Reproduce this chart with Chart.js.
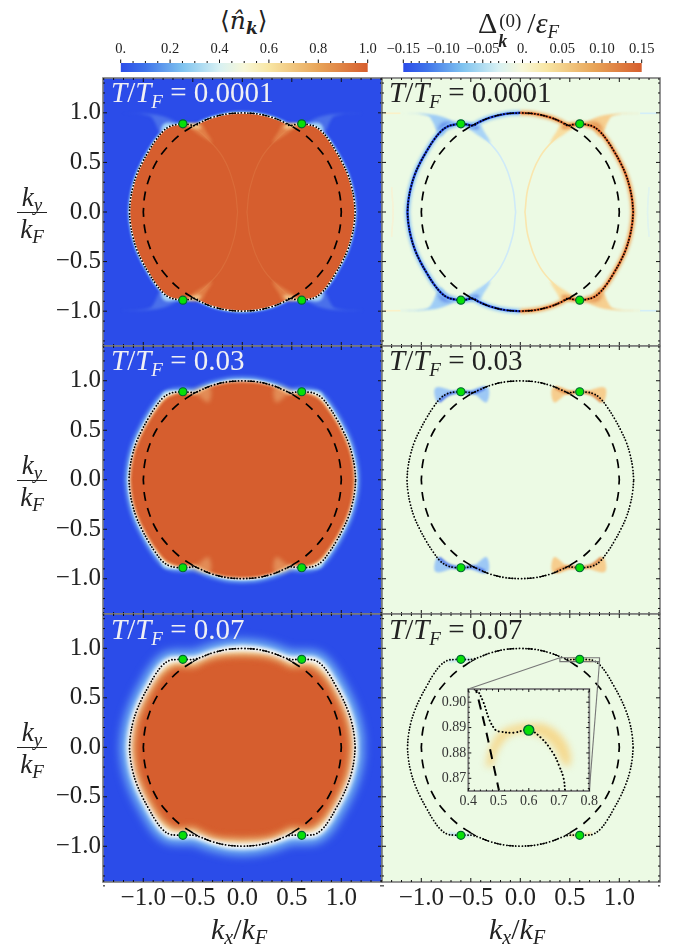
<!DOCTYPE html>
<html>
<head>
<meta charset="utf-8">
<script src="https://cdn.jsdelivr.net/npm/chart.js@4"></script>
<style>
  html, body { margin: 0; padding: 0; background: #fff; }
  #page { position: relative; width: 677px; height: 944px; overflow: hidden; font-family: "Liberation Serif", serif; color: #222; }
  #page canvas { position: absolute; }
  .lbl { position: absolute; white-space: nowrap; line-height: 1; }
  .tmp { font-size: 29px; font-weight: normal; }
  .tmp sub { font-size: 19px; vertical-align: -6px; line-height: 0; font-style: italic; }
  .frac { position: absolute; left: 14px; width: 36px; text-align: center; font-size: 27px; font-style: italic; line-height: 1; }
  .frac sub { font-size: 19px; vertical-align: -5px; line-height: 0; }
  .frac .bar { position: absolute; left: 3px; right: 3px; height: 1px; background: #222; }
  .frac div { position: absolute; width: 100%; }
</style>
</head>
<body>
<div id="page"></div>
<script>
// all in units of k_F. first quadrant only, mirrored below
const outlineCold = [[1.14,0],[1.13,0.12],[1.105,0.25],[1.065,0.38],[1.01,0.5],[0.945,0.615],[0.875,0.725],[0.8,0.815],[0.735,0.862],[0.67,0.88],[0.6,0.889],[0.54,0.882],[0.475,0.873],[0.42,0.905],[0.3,0.954],[0.15,0.989],[0,1]];
const outlineMid = [[1.145,0],[1.135,0.12],[1.11,0.25],[1.07,0.38],[1.015,0.5],[0.95,0.62],[0.88,0.73],[0.805,0.825],[0.735,0.87],[0.67,0.885],[0.6,0.889],[0.54,0.885],[0.48,0.88],[0.42,0.905],[0.3,0.954],[0.15,0.989],[0,1]];
const outlineWarm = [[1.14,0],[1.13,0.12],[1.105,0.25],[1.065,0.375],[1.01,0.5],[0.945,0.62],[0.875,0.74],[0.805,0.83],[0.735,0.878],[0.67,0.887],[0.6,0.889],[0.54,0.887],[0.49,0.889],[0.43,0.905],[0.3,0.954],[0.15,0.989],[0,1]];
const coreMid = [[1.125,0],[1.115,0.12],[1.09,0.25],[1.05,0.37],[0.995,0.49],[0.93,0.605],[0.86,0.71],[0.78,0.805],[0.7,0.85],[0.62,0.87],[0.55,0.86],[0.47,0.86],[0.4,0.895],[0.3,0.94],[0.15,0.975],[0,0.985]];
const coreWarm = [[1.08,0],[1.07,0.12],[1.04,0.27],[0.99,0.4],[0.93,0.52],[0.86,0.64],[0.775,0.745],[0.68,0.805],[0.58,0.805],[0.48,0.805],[0.4,0.845],[0.28,0.89],[0.14,0.91],[0,0.915]];
const fermiCircle = [[1,0],[0.985,0.17],[0.94,0.34],[0.87,0.5],[0.77,0.64],[0.64,0.77],[0.5,0.866]];
const fermiTop = [[0.5,0.866],[0.4,0.917],[0.3,0.954],[0.15,0.989],[0,1]];
const crossings = [[0.6,0.889],[-0.6,0.889],[0.6,-0.889],[-0.6,-0.889]];

const lensArc = [[0.047,0],[0.081,0.255],[0.2,0.558],[0.385,0.77],[0.5,0.86]];
const lensPale = [[0.6,0.887],[0.418,0.894],[0.37,0.82],[0.3,0.7],[0.34,0.72],[0.45,0.79],[0.553,0.861]];
const lensHot = [[0.58,0.885],[0.45,0.885],[0.42,0.84],[0.5,0.845]];
const wingPale = [[0.636,0.887],[0.771,0.955],[0.939,0.988],[1.209,0.997],[0.939,0.97],[0.88,0.9],[0.856,0.843],[0.805,0.76],[0.72,0.862]];
const wingHot = [[0.65,0.885],[0.74,0.9],[0.8,0.88],[0.82,0.8],[0.78,0.83]];
const wingTip = [[1.21,0.995],[1.38,0.995]];
const farArc = [[1.3,-0.25],[1.285,0],[1.3,0.25]];
const midWing = [[0.653,0.889],[0.855,0.929],[0.838,0.782],[0.754,0.856]];
const midLens = [[0.553,0.888],[0.333,0.939],[0.34,0.782],[0.451,0.855]];
const midStreak = [[0.36,0.925],[0.48,0.88],[0.6,0.889],[0.72,0.865],[0.82,0.79]];
const warmStreak = [[0.5,0.888],[0.6,0.889],[0.72,0.868]];

const zoomBox = [[0.4,0.905],[0.8,0.905],[0.8,0.865],[0.4,0.865],[0.4,0.905]];
const zoomLineA = [[0.4,0.905],[-0.525,0.589]];
const zoomLineB = [[0.8,0.865],[0.697,-0.441]];
const insetOutline = [[0.43,0.905],[0.45,0.9],[0.47,0.893],[0.49,0.889],[0.5,0.8885],[0.55,0.888],[0.6,0.889],[0.64,0.886],[0.68,0.88],[0.7,0.875],[0.715,0.87],[0.72,0.865]];
const insetCircle = [[0.42,0.9075],[0.44,0.898],[0.46,0.888],[0.48,0.877],[0.5,0.866],[0.505,0.863]];
const insetBand = [[0.458,0.8746],[0.469,0.881],[0.502,0.888],[0.558,0.891],[0.602,0.8916],[0.658,0.891],[0.713,0.886],[0.739,0.8786],[0.73,0.8746],[0.713,0.876],[0.68,0.8826],[0.636,0.8866],[0.58,0.888],[0.536,0.8866],[0.497,0.881],[0.48,0.8746]];
const insetPoint = [[0.6,0.889]];

const axisTicks = [-1, -0.5, 0, 0.5, 1];
const axisLabels = ['−1.0', '−0.5', '0.0', '0.5', '1.0'];
const axisMinor = [-1.4,-1.3,-1.2,-1.1,-0.9,-0.8,-0.7,-0.6,-0.4,-0.3,-0.2,-0.1,0.1,0.2,0.3,0.4,0.6,0.7,0.8,0.9,1.1,1.2,1.3,1.4];
const insetXTicks = [0.4, 0.5, 0.6, 0.7, 0.8];
const insetXLabels = ['0.4', '0.5', '0.6', '0.7', '0.8'];
const insetXMinor = [0.42,0.44,0.46,0.48,0.52,0.54,0.56,0.58,0.62,0.64,0.66,0.68,0.72,0.74,0.76,0.78];
const insetYTicks = [0.87, 0.88, 0.89, 0.9];
const insetYLabels = ['0.87', '0.88', '0.89', '0.90'];
const insetYMinor = [0.866,0.868,0.872,0.874,0.876,0.878,0.882,0.884,0.886,0.888,0.892,0.894,0.896,0.898,0.902,0.904];

const occupationTicks = [0, 0.2, 0.4, 0.6, 0.8, 1];
const occupationLabels = ['0.', '0.2', '0.4', '0.6', '0.8', '1.0'];
const occupationMinor = [0.05,0.1,0.15,0.25,0.3,0.35,0.45,0.5,0.55,0.65,0.7,0.75,0.85,0.9,0.95];
const gapTicks = [-0.15, -0.1, -0.05, 0, 0.05, 0.1, 0.15];
const gapLabels = ['−0.15', '−0.10', '−0.05', '0.', '0.05', '0.10', '0.15'];
const gapMinor = [-0.14,-0.13,-0.12,-0.11,-0.09,-0.08,-0.07,-0.06,-0.04,-0.03,-0.02,-0.01,0.01,0.02,0.03,0.04,0.06,0.07,0.08,0.09,0.11,0.12,0.13,0.14];
const colorStops = [[0,'#2b4ce9'],[0.1,'#3f74ea'],[0.25,'#7fc3ef'],[0.4,'#d8f1f3'],[0.5,'#f8f7d8'],[0.6,'#f8e6a4'],[0.8,'#e8a458'],[1,'#d65e2e']];

const blue = '#2b4ce9';
const orange = '#d65e2e';
const mint = '#ecfae4';
const serif = '"Liberation Serif", serif';

Chart.defaults.animation = false;
Chart.defaults.plugins.legend.display = false;
Chart.defaults.plugins.tooltip.enabled = false;
Chart.defaults.plugins.filler.drawTime = 'beforeDatasetDraw';

function mirror(pts, sx, sy) {
  return pts.map(p => [p[0] * sx, p[1] * sy]);
}
function closedLoop(q) {
  return [...q, ...mirror(q, -1, 1).reverse(), ...mirror(q, -1, -1), ...mirror(q, 1, -1).reverse()];
}
function leftHalf(q) {
  return [...mirror(q, -1, 1).reverse(), ...mirror(q, -1, -1)];
}
function toXY(pts) {
  return pts.map(p => ({ x: p[0], y: p[1] }));
}

// one dataset per layer, filters are applied per dataset by softLayers
function layer(pts, o) {
  return {
    data: toXY(pts),
    showLine: true,
    pointRadius: 0,
    tension: o.tension === undefined ? 0.4 : o.tension,
    borderWidth: o.width || 0,
    borderColor: o.color || 'transparent',
    backgroundColor: o.fillColor || 'transparent',
    fill: o.fillColor ? 'shape' : false,
    borderDash: o.dash || [],
    borderCapStyle: o.cap || 'butt',
    blur: o.blur || 0
  };
}

const softLayers = {
  id: 'softLayers',
  beforeDatasetsDraw(chart) { setBlur(chart, chart.data.datasets.length - 1); },
  afterDatasetDraw(chart, args) { setBlur(chart, args.index - 1); },
  afterDatasetsDraw(chart) { chart.ctx.filter = 'none'; }
};
function setBlur(chart, i) {
  const ds = chart.data.datasets[i];
  chart.ctx.filter = ds && ds.blur ? 'blur(' + ds.blur + 'px)' : 'none';
}

function tickRow(ctx, scale, vals, len, side, area) {
  vals.forEach(v => {
    const p = scale.getPixelForValue(v);
    ctx.beginPath();
    if (side === 'top') { ctx.moveTo(p, area.top); ctx.lineTo(p, area.top + len); }
    if (side === 'bottom') { ctx.moveTo(p, area.bottom); ctx.lineTo(p, area.bottom - len); }
    if (side === 'left') { ctx.moveTo(area.left, p); ctx.lineTo(area.left + len, p); }
    if (side === 'right') { ctx.moveTo(area.right, p); ctx.lineTo(area.right - len, p); }
    ctx.stroke();
  });
}

const panelFrame = {
  id: 'panelFrame',
  beforeDraw(chart, args, opts) {
    if (!opts.bg) return;
    const a = chart.chartArea;
    chart.ctx.fillStyle = opts.bg;
    chart.ctx.fillRect(a.left, a.top, a.width, a.height);
  },
  afterDraw(chart, args, opts) {
    if (!opts.frame) return;
    const ctx = chart.ctx, a = chart.chartArea;
    ctx.save();
    ctx.strokeStyle = opts.frame;
    ctx.lineWidth = opts.frameWidth;
    ctx.strokeRect(a.left, a.top, a.width, a.height);
    ctx.strokeStyle = '#111';
    ctx.lineWidth = 1;
    ['top', 'bottom'].forEach(s => {
      tickRow(ctx, chart.scales.x, opts.xMajor, opts.major, s, a);
      tickRow(ctx, chart.scales.x, opts.xMinor, opts.minor, s, a);
    });
    ['left', 'right'].forEach(s => {
      tickRow(ctx, chart.scales.y, opts.yMajor, opts.major, s, a);
      tickRow(ctx, chart.scales.y, opts.yMinor, opts.minor, s, a);
    });
    ctx.restore();
  }
};

const barTicks = {
  id: 'barTicks',
  afterDraw(chart, args, opts) {
    if (!opts.major) return;
    const ctx = chart.ctx, a = chart.chartArea, x = chart.scales.x;
    ctx.save();
    ctx.strokeStyle = '#111';
    ctx.lineWidth = 1;
    opts.major.concat(opts.minor).forEach((v, i) => {
      const p = x.getPixelForValue(v);
      ctx.beginPath();
      ctx.moveTo(p, a.top);
      ctx.lineTo(p, a.top - (i < opts.major.length ? 3.5 : 2));
      ctx.stroke();
    });
    ctx.restore();
  }
};
Chart.register(softLayers, panelFrame, barTicks);

const page = document.getElementById('page');
function addCanvas(left, top, w, h) {
  const c = document.createElement('canvas');
  c.width = w; c.height = h;
  c.style.left = left + 'px'; c.style.top = top + 'px';
  c.style.width = w + 'px'; c.style.height = h + 'px';
  page.appendChild(c);
  return c;
}

function fixedAxis(o) {
  return {
    type: 'linear',
    position: o.position,
    display: o.show,
    min: o.min,
    max: o.max,
    grid: { display: false, drawTicks: false },
    border: { display: false },
    afterBuildTicks(s) { s.ticks = o.ticks.map(v => ({ value: v })); },
    afterFit(s) {
      if (!o.show) return;
      s.paddingLeft = s.paddingRight = s.paddingTop = s.paddingBottom = 0;
      if (o.width) s.width = o.width;
      if (o.height) s.height = o.height;
    },
    ticks: {
      autoSkip: false, maxRotation: 0, minRotation: 0,
      padding: o.pad,
      color: o.color || '#222',
      font: { family: serif, size: o.size },
      callback: (v, i) => o.labels[i]
    }
  };
}

// column/row limits follow the pixel position of +-1.0 in the reference
const colLimits = [[-1.407, 1.411], [-1.397, 1.411]];
const rowLimits = [[-1.351, 1.351], [-1.356, 1.351], [-1.361, 1.347]];
const rowTops = [78, 346, 614];

function panel(col, row, bg, bottomUp) {
  const left = col === 0 ? 0 : 380;
  const width = col === 0 ? 384 : 282;
  const extra = row === 2 ? 46 : 2;
  const c = addCanvas(left, rowTops[row] - 2, width, 270 + extra);
  new Chart(c, {
    type: 'scatter',
    data: { datasets: bottomUp.slice().reverse() },
    options: {
      responsive: false,
      devicePixelRatio: 1,
      layout: { autoPadding: false, padding: { left: col === 0 ? 0 : 2, right: 2, top: 2, bottom: row === 2 ? 0 : 2 } },
      scales: {
        x: fixedAxis({ position: 'bottom', show: row === 2, min: colLimits[col][0], max: colLimits[col][1], ticks: axisTicks, labels: axisLabels, size: 25, pad: 1, height: 46 }),
        y: fixedAxis({ position: 'left', show: col === 0, min: rowLimits[row][0], max: rowLimits[row][1], ticks: axisTicks, labels: axisLabels, size: 25, pad: 2, width: 103 })
      },
      plugins: {
        panelFrame: { bg, frame: '#7a7a7a', frameWidth: 1.6, major: 4, minor: 2, xMajor: axisTicks, xMinor: axisMinor, yMajor: axisTicks, yMinor: axisMinor }
      }
    }
  });
}

function curves(outline) {
  const out = [];
  [1, -1].forEach(sy => [1, -1].forEach(sx => {
    out.push(layer(mirror(fermiTop, sx, sy), { color: '#000', width: 1.2, dash: [6, 7] }));
  }));
  const rightArc = [...mirror(fermiCircle, 1, -1).reverse(), ...fermiCircle];
  out.push(layer(rightArc, { color: '#000', width: 1.7, dash: [9, 7.5] }));
  out.push(layer(mirror(rightArc, -1, 1), { color: '#000', width: 1.7, dash: [9, 7.5] }));
  out.push(layer(closedLoop(outline), { color: '#000', width: 1.8, dash: [0.1, 3], cap: 'round' }));
  return out;
}
function greenDots(r) {
  return {
    data: toXY(crossings),
    showLine: false,
    pointRadius: r,
    pointBackgroundColor: '#08e008',
    pointBorderColor: '#063',
    pointBorderWidth: 1.2,
    blur: 0
  };
}
function fourWays(pts, colorRight, colorLeft, blur, out, stroke) {
  [1, -1].forEach(sx => [1, -1].forEach(sy => {
    const color = sx > 0 ? colorRight : colorLeft;
    const o = stroke ? { color, width: stroke, blur } : { fillColor: color, blur };
    out.push(layer(mirror(pts, sx, sy), o));
  }));
}

// left column, occupation
const occCold = [
  layer(closedLoop(outlineCold), { color: '#8cc8f2', width: 3, blur: 1 })
];
fourWays(wingPale, '#4a70ea', '#4a70ea', 1.4, occCold);
fourWays(wingHot, '#a8d8f6', '#a8d8f6', 1.6, occCold);
occCold.push(layer(closedLoop(outlineCold), { color: '#ffffff', width: 1.6, blur: 0.5, fillColor: orange }));
fourWays(lensArc, 'rgba(240,170,110,0.18)', 'rgba(240,170,110,0.18)', 0.6, occCold, 1.2);
fourWays(lensPale, 'rgba(238,160,96,0.5)', 'rgba(238,160,96,0.5)', 1.6, occCold);
fourWays(lensHot, 'rgba(245,207,147,0.85)', 'rgba(245,207,147,0.85)', 1.6, occCold);
occCold.push(...curves(outlineCold), greenDots(4));
panel(0, 0, blue, occCold);

const occMid = [
  layer(closedLoop(outlineMid), { color: '#86c4f2', width: 7, blur: 2.2 })
];
fourWays(wingHot, '#a9d6f5', '#a9d6f5', 1.8, occMid);
occMid.push(layer(closedLoop(outlineMid), { color: '#ffffff', width: 2.5, blur: 1, fillColor: '#f6dca0' }));
occMid.push(layer(closedLoop(coreMid), { color: orange, width: 1, blur: 1.2, fillColor: orange }));
fourWays(midLens, 'rgba(240,185,125,0.5)', 'rgba(240,185,125,0.5)', 2, occMid);
occMid.push(...curves(outlineMid), greenDots(4));
panel(0, 1, blue, occMid);

const occWarm = [
  layer(closedLoop(outlineWarm), { color: '#78b8f2', width: 18, blur: 5 }),
  layer(closedLoop(outlineWarm), { color: '#ffffff', width: 6, blur: 2, fillColor: '#f9eab8' }),
  layer(closedLoop(coreWarm), { color: '#e8a862', width: 3, blur: 3, fillColor: '#e8a862' }),
  layer(closedLoop(coreWarm), { color: orange, width: 1, blur: 3, fillColor: orange })
];
occWarm.push(...curves(outlineWarm), greenDots(4));
panel(0, 2, blue, occWarm);

// right column, gap
const gapCold = [];
fourWays(wingTip, '#d3eef8', '#fbf1c8', 0.6, gapCold, 1.6);
fourWays(farArc, '#e0f4ee', '#f6f3d6', 0.6, gapCold, 1.4);
fourWays(lensArc, '#f9e6ae', '#cfeaf8', 0.6, gapCold, 1.6);
fourWays(wingPale, '#f6cf90', '#9fcdf5', 1.2, gapCold);
fourWays(lensPale, '#f8dda0', '#a9d4f6', 1.2, gapCold);
fourWays(wingHot, '#df803f', '#4a72e8', 2, gapCold);
fourWays(lensHot, '#e4904f', '#5a84ea', 1.6, gapCold);
gapCold.push(
  layer(leftHalf(outlineCold), { color: '#8fc6f4', width: 5, blur: 1.4 }),
  layer(mirror(leftHalf(outlineCold), -1, 1), { color: '#efb26c', width: 5, blur: 1.4 }),
  layer(leftHalf(outlineCold), { color: '#1f3fd8', width: 2.4, blur: 0.6 }),
  layer(mirror(leftHalf(outlineCold), -1, 1), { color: '#d6602a', width: 2.4, blur: 0.6 })
);
gapCold.push(...curves(outlineCold), greenDots(4));
panel(1, 0, mint, gapCold);

const gapMid = [];
fourWays(midWing, '#f6cd8e', '#9dc8f5', 1.3, gapMid);
fourWays(midLens, '#f6cd8e', '#9dc8f5', 1.3, gapMid);
fourWays(midStreak, '#e08a48', '#4f78ea', 1, gapMid, 3);
gapMid.push(...curves(outlineMid), greenDots(4));
panel(1, 1, mint, gapMid);

const gapWarm = [];
fourWays(warmStreak, '#f3d592', '#b7dcf6', 0.8, gapWarm, 2.2);
gapWarm.push(...curves(outlineWarm));
gapWarm.push(
  layer(zoomBox, { color: '#777', width: 1.2, tension: 0 }),
  layer(zoomLineA, { color: '#777', width: 1.1, tension: 0 }),
  layer(zoomLineB, { color: '#777', width: 1.1, tension: 0 }),
  greenDots(4)
);
panel(1, 2, mint, gapWarm);

// inset of the bottom right panel
new Chart(addCanvas(430, 680, 175, 135), {
  type: 'scatter',
  data: {
    datasets: [
      layer(insetBand, { fillColor: '#f5d98f', blur: 3.5 }),
      layer(insetCircle, { color: '#000', width: 2, dash: [10, 7] }),
      layer(insetOutline, { color: '#000', width: 2, dash: [0.1, 3.6], cap: 'round' }),
      { data: toXY(insetPoint), showLine: false, pointRadius: 5, pointBackgroundColor: '#08e008', pointBorderColor: '#063', pointBorderWidth: 1.4, blur: 0 }
    ].reverse()
  },
  options: {
    responsive: false,
    devicePixelRatio: 1,
    layout: { autoPadding: false, padding: { top: 9, right: 15.7 } },
    scales: {
      x: fixedAxis({ position: 'bottom', show: true, min: 0.4, max: 0.8, ticks: insetXTicks, labels: insetXLabels, size: 14, pad: 2, height: 24, color: '#333' }),
      y: fixedAxis({ position: 'left', show: true, min: 0.865, max: 0.9052, ticks: insetYTicks, labels: insetYLabels, size: 14, pad: 2, width: 38.3, color: '#333' })
    },
    plugins: {
      panelFrame: { frame: '#7a7a7a', frameWidth: 1.8, major: 3, minor: 1.5, xMajor: insetXTicks, xMinor: insetXMinor, yMajor: insetYTicks, yMinor: insetYMinor }
    }
  }
});

// colour bars
function colorBar(left, width, padL, padR, min, max, ticks, labels, minor) {
  const c = addCanvas(left, 40, width, 32);
  new Chart(c, {
    type: 'bar',
    data: {
      labels: ['scale'],
      datasets: [{
        data: [[min, max]],
        categoryPercentage: 1,
        barPercentage: 1,
        backgroundColor(ctx) {
          const a = ctx.chart.chartArea;
          if (!a) return colorStops[0][1];
          const g = ctx.chart.ctx.createLinearGradient(a.left, 0, a.right, 0);
          colorStops.forEach(s => g.addColorStop(s[0], s[1]));
          return g;
        }
      }]
    },
    options: {
      indexAxis: 'y',
      responsive: false,
      devicePixelRatio: 1,
      layout: { autoPadding: false, padding: { left: padL, right: padR } },
      scales: {
        x: fixedAxis({ position: 'top', show: true, min, max, ticks, labels, size: 14.5, pad: 5, height: 23 }),
        y: { type: 'category', display: false }
      },
      plugins: { barTicks: { major: ticks, minor } }
    }
  });
}
colorBar(100, 290, 20.7, 22.3, 0, 1, occupationTicks, occupationLabels, occupationMinor);
colorBar(380, 290, 23.3, 28.3, -0.15, 0.15, gapTicks, gapLabels, gapMinor);

// text that needs sub and superscripts lives in the page, not the canvas
function addLabel(html, left, top, cls, color) {
  const d = document.createElement('div');
  d.className = 'lbl ' + (cls || '');
  d.innerHTML = html;
  d.style.left = left + 'px';
  d.style.top = top + 'px';
  if (color) d.style.color = color;
  page.appendChild(d);
  return d;
}
const tempLabels = ['0.0001', '0.03', '0.07'];
const tempTops = [78, 346, 615];
tempLabels.forEach((t, i) => {
  const html = '<i>T</i>/<i>T<sub>F</sub></i> = ' + t;
  addLabel(html, 111, tempTops[i], 'tmp', '#f0f0f4');
  addLabel(html, 389, tempTops[i], 'tmp', '#222');
});

[212, 479.7, 747.3].forEach(y => {
  const f = document.createElement('div');
  f.className = 'frac';
  f.style.top = (y - 30) + 'px';
  f.style.height = '60px';
  f.innerHTML = '<div style="top:2px">k<sub>y</sub></div><div class="bar" style="top:30px;width:auto"></div><div style="top:34px">k<sub>F</sub></div>';
  page.appendChild(f);
});

const xLabel = '<i>k<sub style="font-size:20px;vertical-align:-5px;line-height:0">x</sub></i>/<i>k<sub style="font-size:20px;vertical-align:-5px;line-height:0">F</sub></i>';
addLabel(xLabel, 211, 914).style.fontSize = '30px';
addLabel(xLabel, 489, 914).style.fontSize = '30px';

const occTitle = addLabel('⟨<i>n̂</i><b><i style="font-size:17px;vertical-align:-5px;line-height:0">k</i></b>⟩', 220, 8);
occTitle.style.fontSize = '25px';
occTitle.style.fontFamily = '"DejaVu Serif", serif';
const gapTitle = addLabel('Δ<span style="display:inline-block;position:relative;width:30px;height:10px"><b><i style="position:absolute;left:1px;top:9px;font-size:18px">k</i></b><span style="position:absolute;left:2px;top:-12px;font-size:19px">(0)</span></span>/<i>ε<sub style="font-size:19px;vertical-align:-5px;line-height:0">F</sub></i>', 478, 8);
gapTitle.style.fontSize = '30px';
</script>
</body>
</html>
